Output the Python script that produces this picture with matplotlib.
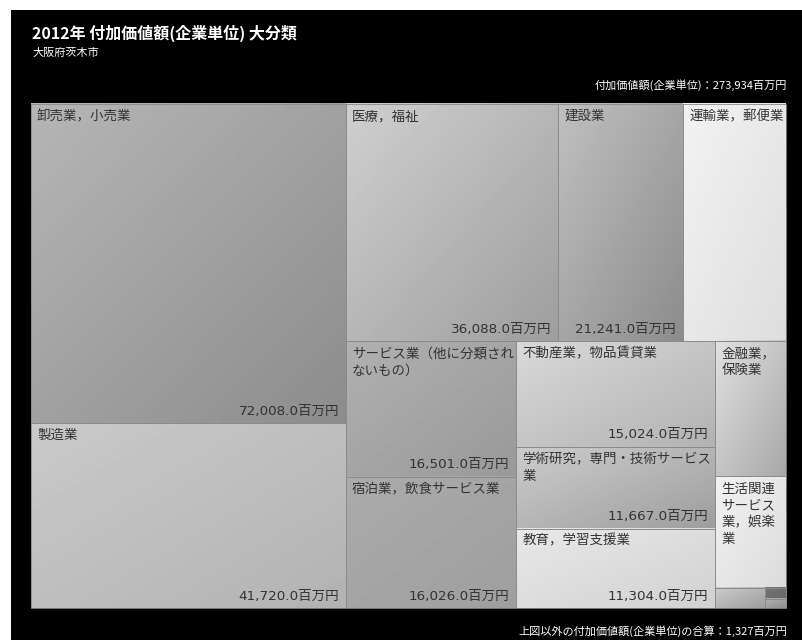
import numpy as np
import matplotlib
matplotlib.use('Agg')
import matplotlib.pyplot as plt
from matplotlib.patches import Rectangle
from matplotlib.font_manager import FontProperties

plt.rcParams['font.family'] = ['Noto Sans CJK JP', 'DejaVu Sans']

# industries (descending), values in 百万円
industries = ['卸売業，小売業', '製造業', '医療，福祉', '建設業', '運輸業，郵便業',
              'サービス業（他に分類されないもの）', '宿泊業，飲食サービス業',
              '不動産業，物品賃貸業', '学術研究，専門・技術サービス業', '教育，学習支援業',
              '金融業，保険業', '生活関連サービス業，娯楽業',
              '情報通信業', '電気・ガス・熱供給・水道業', '複合サービス事業']
values = [72008, 41720, 36088, 21241, 17500, 16501, 16026, 15024, 11667, 11304,
          6850, 5650, 720, 170, 138]
grand_total = 273934
other_total = 1327

# gray level of each tile: top-left / bottom-right
shade_light = [0.71, 0.79, 0.81, 0.75, 0.95, 0.69, 0.67, 0.85, 0.80, 0.91, 0.88, 0.95, 0.80, 0.46, 0.70]
shade_dark = [0.55, 0.70, 0.62, 0.55, 0.87, 0.60, 0.62, 0.70, 0.62, 0.82, 0.66, 0.86, 0.62, 0.40, 0.55]

PHI = (1 + 5 ** 0.5) / 2


def squarify(vals, x0, y0, x1, y1, ratio=PHI):
    # same rule as d3.treemapSquarify
    rects = []
    total = float(sum(vals))
    n = len(vals)
    i0 = 0
    while i0 < n:
        dx, dy = x1 - x0, y1 - y0
        s = vals[i0]
        mn = mx = s
        i1 = i0 + 1
        alpha = max(dy / dx, dx / dy) / (total * ratio)
        beta = s * s * alpha
        best = max(mx / beta, beta / mn)
        while i1 < n:
            v = vals[i1]
            s2 = s + v
            mn2, mx2 = min(mn, v), max(mx, v)
            beta = s2 * s2 * alpha
            r = max(mx2 / beta, beta / mn2)
            if r > best:
                break
            s, mn, mx, best = s2, mn2, mx2, r
            i1 += 1
        row = vals[i0:i1]
        if dx < dy:
            yb = y0 + dy * s / total
            xx = x0
            for v in row:
                w = dx * v / s
                rects.append((xx, y0, w, yb - y0))
                xx += w
            y0 = yb
        else:
            xb = x0 + dx * s / total
            yy = y0
            for v in row:
                h = dy * v / s
                rects.append((x0, yy, xb - x0, h))
                yy += h
            x0 = xb
        total -= s
        i0 = i1
    return rects


fig = plt.figure(figsize=(8.02, 6.40), dpi=100, facecolor='white')
ax = fig.add_axes([0, 0, 1, 1])
ax.set_xlim(0, 802)
ax.set_ylim(640, 0)
ax.axis('off')
ax.add_patch(Rectangle((11, 10), 791, 630, facecolor='black', edgecolor='none', zorder=0))

renderer = fig.canvas.get_renderer()
name_fp = FontProperties(family=['Noto Sans CJK JP', 'DejaVu Sans'], size=9.7)
val_fp = FontProperties(family=['DejaVu Sans', 'Noto Sans CJK JP'], size=9.7)


def text_w(s, fp):
    return renderer.get_text_width_height_descent(s, fp, ismath=False)[0]


def wrap(s, maxw):
    lines, cur = [], ''
    for ch in s:
        if cur and text_w(cur + ch, name_fp) > maxw:
            lines.append(cur)
            cur = ch
        else:
            cur += ch
    lines.append(cur)
    return lines


rects = squarify(values, 31, 104, 786, 608)
uu, vv = np.meshgrid(np.linspace(0, 1, 40), np.linspace(0, 1, 40))
for (x, y, w, h), name, val, a, b in zip(rects, industries, values, shade_light, shade_dark):
    grad = a + (b - a) * (uu * 0.5 + vv * 0.5)
    ax.imshow(grad, cmap='gray', vmin=0, vmax=1, extent=(x, x + w, y + h, y),
              origin='upper', aspect='auto', interpolation='bilinear', zorder=1)
    ax.add_patch(Rectangle((x, y), w, h, facecolor='none', edgecolor='#8a8a8a', lw=0.6, zorder=2))
    if w < 40 or h < 40:
        continue
    for i, line in enumerate(wrap(name, w - 6)):
        ax.text(x + 6, y + 12 + i * 17, line, fontproperties=name_fp, color='#333333',
                ha='left', va='center', zorder=3)
    label = f'{val:,.1f}百万円'
    if text_w(label, val_fp) + 20 <= w:
        ax.text(x + w - 7, y + h - 12, label, fontproperties=val_fp, color='#333333',
                ha='right', va='center', zorder=3)

ax.set_xlim(0, 802)
ax.set_ylim(640, 0)

ax.text(32, 33, '2012年 付加価値額(企業単位) 大分類', color='white', fontsize=11.5,
        fontweight='bold', ha='left', va='center')
ax.text(32, 53, '大阪府茨木市', color='white', fontsize=8, ha='left', va='center')
ax.text(787, 85, f'付加価値額(企業単位)：{grand_total:,}百万円', color='white', fontsize=8,
        ha='right', va='center')
ax.text(787, 631, f'上図以外の付加価値額(企業単位)の合算：{other_total:,}百万円', color='white',
        fontsize=8, ha='right', va='center')

fig.savefig('out.png', dpi=100, facecolor='white')
